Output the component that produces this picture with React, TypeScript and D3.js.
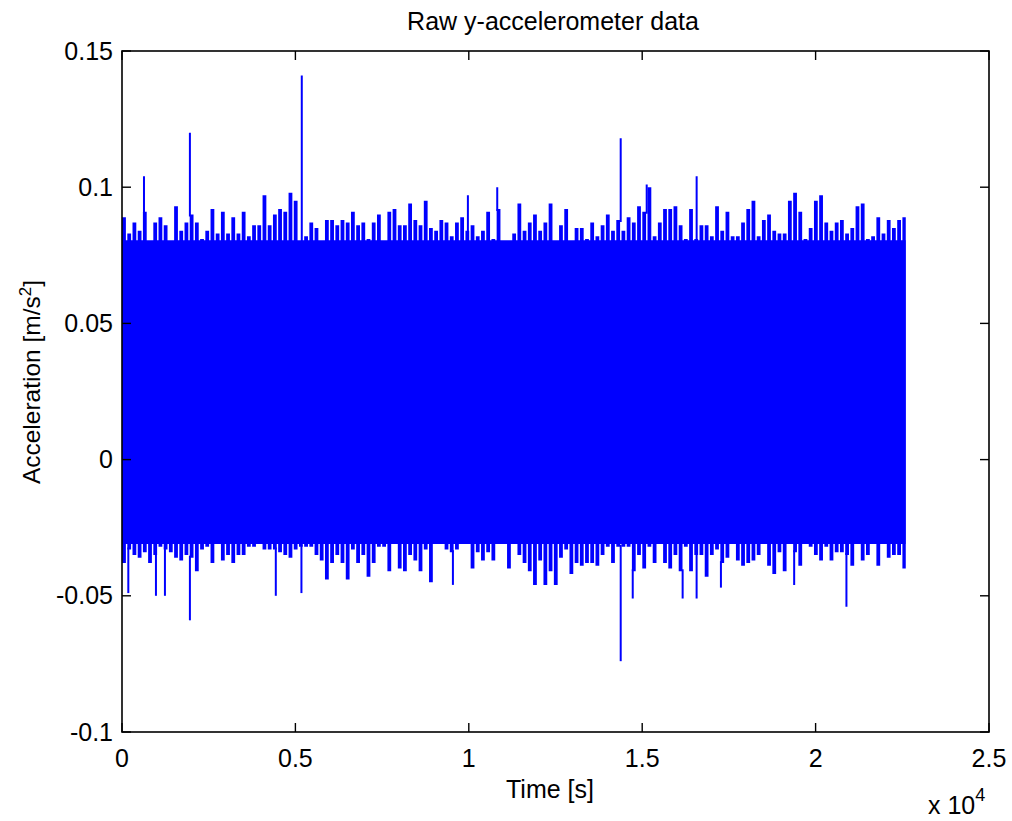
import React from "react";
import * as d3 from "d3";

// ---- data ----
const sampleStep = 150; // seconds between envelope samples
const endTime = 22600;
const coreUpper = 0.0805; // solid part of the band
const coreLower = -0.031;

const upperPeaks = [
  0.089, 0.083, 0.087, 0.084, 0.091, 0.080, 0.087, 0.089, 0.086, 0.080,
  0.093, 0.084, 0.087, 0.090, 0.087, 0.081, 0.084, 0.092, 0.083, 0.091,
  0.083, 0.089, 0.083, 0.091, 0.082, 0.086, 0.086, 0.097, 0.086, 0.090,
  0.092, 0.091, 0.098, 0.095, 0.078, 0.082, 0.087, 0.085, 0.078, 0.088,
  0.088, 0.086, 0.088, 0.087, 0.091, 0.086, 0.087, 0.081, 0.087, 0.090,
  0.080, 0.091, 0.092, 0.086, 0.086, 0.094, 0.088, 0.086, 0.095, 0.085,
  0.084, 0.088, 0.087, 0.082, 0.087, 0.089, 0.084, 0.086, 0.082, 0.084,
  0.091, 0.081, 0.092, 0.080, 0.080, 0.083, 0.094, 0.084, 0.087, 0.090,
  0.084, 0.087, 0.094, 0.080, 0.086, 0.092, 0.078, 0.085, 0.085, 0.081,
  0.087, 0.082, 0.086, 0.090, 0.084, 0.088, 0.084, 0.089, 0.087, 0.093,
  0.091, 0.100, 0.082, 0.087, 0.092, 0.092, 0.093, 0.086, 0.081, 0.092,
  0.081, 0.086, 0.086, 0.082, 0.093, 0.084, 0.091, 0.082, 0.082, 0.087,
  0.092, 0.095, 0.082, 0.088, 0.090, 0.084, 0.083, 0.083, 0.095, 0.098,
  0.091, 0.081, 0.085, 0.095, 0.097, 0.087, 0.084, 0.087, 0.088, 0.083,
  0.085, 0.093, 0.094, 0.081, 0.082, 0.089, 0.083, 0.088, 0.085, 0.088,
  0.089,
];

const lowerPeaks = [
  -0.038, -0.033, -0.035, -0.036, -0.034, -0.038, -0.035, -0.032, -0.033, -0.034,
  -0.036, -0.037, -0.035, -0.036, -0.041, -0.033, -0.032, -0.038, -0.029, -0.037,
  -0.035, -0.038, -0.035, -0.035, -0.032, -0.032, -0.029, -0.033, -0.033, -0.033,
  -0.034, -0.035, -0.036, -0.033, -0.032, -0.032, -0.032, -0.035, -0.037, -0.044,
  -0.038, -0.035, -0.038, -0.044, -0.033, -0.038, -0.035, -0.043, -0.038, -0.032,
  -0.032, -0.041, -0.029, -0.040, -0.041, -0.035, -0.037, -0.041, -0.033, -0.045,
  -0.030, -0.030, -0.033, -0.034, -0.033, -0.029, -0.030, -0.040, -0.034, -0.037,
  -0.034, -0.037, -0.029, -0.030, -0.040, -0.029, -0.035, -0.038, -0.041, -0.046,
  -0.037, -0.046, -0.041, -0.046, -0.036, -0.033, -0.042, -0.038, -0.039, -0.038,
  -0.038, -0.039, -0.035, -0.032, -0.038, -0.032, -0.032, -0.032, -0.041, -0.035,
  -0.040, -0.032, -0.038, -0.031, -0.038, -0.040, -0.035, -0.041, -0.032, -0.041,
  -0.035, -0.035, -0.043, -0.035, -0.033, -0.038, -0.036, -0.031, -0.037, -0.039,
  -0.038, -0.037, -0.035, -0.030, -0.039, -0.042, -0.034, -0.041, -0.030, -0.034,
  -0.039, -0.029, -0.032, -0.035, -0.037, -0.032, -0.037, -0.034, -0.034, -0.035,
  -0.039, -0.030, -0.037, -0.035, -0.031, -0.039, -0.030, -0.036, -0.035, -0.035,
  -0.040,
];

const upperSpikeTimes = [634, 1958, 5184, 9974, 10820, 14380, 15130, 16570];
const upperSpikeValues = [0.104, 0.12, 0.141, 0.097, 0.1, 0.118, 0.101, 0.104];

const lowerSpikeTimes = [182, 979, 1238, 1958, 4435, 5174, 9542, 14380, 14727, 16166, 16569, 17270, 19382, 20889];
const lowerSpikeValues = [-0.049, -0.05, -0.05, -0.059, -0.05, -0.049, -0.046, -0.074, -0.051, -0.051, -0.051, -0.047, -0.046, -0.054];

const xTicks = [0, 5000, 10000, 15000, 20000, 25000];
const xTickLabels = ["0", "0.5", "1", "1.5", "2", "2.5"];
const yTicks = [-0.1, -0.05, 0, 0.05, 0.1, 0.15];
const yTickLabels = ["-0.1", "-0.05", "0", "0.05", "0.1", "0.15"];

const titleText = "Raw y-accelerometer data";
const xLabelText = "Time [s]";

// ---- layout ----
const W = 1012;
const H = 821;
const L = 122;
const R = 989;
const T = 51;
const B = 732;
const FONT = "'Liberation Sans', Arial, Helvetica, sans-serif";
const FS = 25;
const BLUE = "#0000ff";
const TICK = 9;

export default function App() {
  const x = d3.scaleLinear().domain([0, 25000]).range([L, R]);
  const y = d3.scaleLinear().domain([-0.1, 0.15]).range([B, T]);

  const sampleTimes = upperPeaks.map((_, i) => i * sampleStep);

  const core = d3
    .area<number>()
    .x((t) => x(t))
    .y0(() => y(coreLower))
    .y1(() => y(coreUpper))([0, endTime]) as string;

  const baseAt = (t: number, arr: number[]) => arr[Math.min(arr.length - 1, Math.floor(t / sampleStep))];

  return (
    <div style={{ position: "absolute", left: 0, top: 0 }}>
      <svg width={W} height={H} style={{ display: "block", background: "#fff" }}>
        <rect x={0} y={0} width={W} height={H} fill="#fff" />
        <defs>
          <clipPath id="dataClip">
            <rect x={x(0)} y={T} width={x(endTime) - x(0)} height={B - T} />
          </clipPath>
        </defs>
        {/* signal */}
        <g clipPath="url(#dataClip)">
          <path d={core} fill={BLUE} />
          {sampleTimes.map((t, i) => (
            <line
              key={"s" + i}
              x1={x(t) + 2}
              x2={x(t) + 2}
              y1={y(lowerPeaks[i])}
              y2={y(upperPeaks[i])}
              stroke={BLUE}
              strokeWidth={3.8}
            />
          ))}
          {upperSpikeTimes.map((t, i) => (
            <line
              key={"us" + i}
              x1={x(t)}
              x2={x(t)}
              y1={y(baseAt(t, upperPeaks)) + 2}
              y2={y(upperSpikeValues[i])}
              stroke={BLUE}
              strokeWidth={2}
            />
          ))}
          {lowerSpikeTimes.map((t, i) => (
            <line
              key={"ls" + i}
              x1={x(t)}
              x2={x(t)}
              y1={y(baseAt(t, lowerPeaks)) - 2}
              y2={y(lowerSpikeValues[i])}
              stroke={BLUE}
              strokeWidth={2}
            />
          ))}
        </g>

        {/* axes box */}
        <rect x={L} y={T} width={R - L} height={B - T} fill="none" stroke="#000" strokeWidth={1.6} />

        {/* x ticks */}
        {xTicks.map((v, i) => (
          <g key={"xt" + i}>
            <line x1={x(v)} x2={x(v)} y1={B} y2={B - TICK} stroke="#000" strokeWidth={1.4} />
            <line x1={x(v)} x2={x(v)} y1={T} y2={T + TICK} stroke="#000" strokeWidth={1.4} />
            <text x={x(v)} y={767} textAnchor="middle" fontFamily={FONT} fontSize={FS} fill="#000">
              {xTickLabels[i]}
            </text>
          </g>
        ))}

        {/* y ticks */}
        {yTicks.map((v, i) => (
          <g key={"yt" + i}>
            <line x1={L} x2={L + TICK} y1={y(v)} y2={y(v)} stroke="#000" strokeWidth={1.4} />
            <line x1={R} x2={R - TICK} y1={y(v)} y2={y(v)} stroke="#000" strokeWidth={1.4} />
            <text x={113} y={y(v) + 8.5} textAnchor="end" fontFamily={FONT} fontSize={FS} fill="#000">
              {yTickLabels[i]}
            </text>
          </g>
        ))}

        {/* title */}
        <text x={553} y={30} textAnchor="middle" fontFamily={FONT} fontSize={FS} fill="#000">
          {titleText}
        </text>

        {/* x label */}
        <text x={550} y={798} textAnchor="middle" fontFamily={FONT} fontSize={FS} fill="#000">
          {xLabelText}
        </text>

        {/* exponent */}
        <text x={928} y={814} fontFamily={FONT} fontSize={FS} fill="#000">
          x 10
          <tspan dy={-13} fontSize={18}>4</tspan>
        </text>

        {/* y label */}
        <text
          transform={`translate(40, 382) rotate(-90)`}
          textAnchor="middle"
          fontFamily={FONT}
          fontSize={24.5}
          fill="#000"
        >
          Acceleration [m/s
          <tspan dy={-9} fontSize={17}>2</tspan>
          <tspan dy={9}>]</tspan>
        </text>
      </svg>
    </div>
  );
}
